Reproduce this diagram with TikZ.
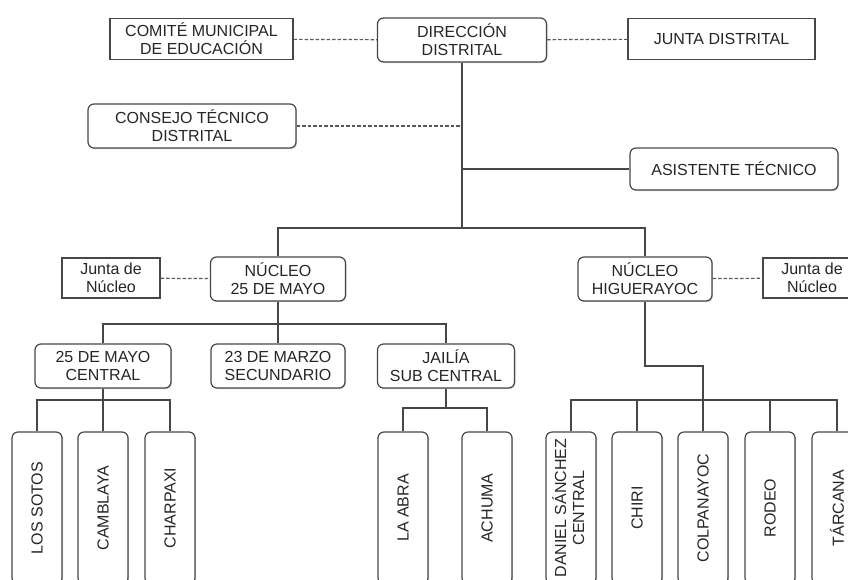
\documentclass[tikz,border=0pt]{standalone}
\usepackage{fontspec}
\setmainfont{Liberation Sans}
\usepackage{tikz}
\usetikzlibrary{shadows}

\begin{document}
\begin{tikzpicture}[x=1pt, y=-1pt, line width=1.2pt, draw=black!72, text=black!85,
    font=\fontsize{16}{18}\selectfont,
    box/.style={draw=black!72, fill=white, align=center, inner sep=0pt, rounded corners=6pt,
                drop shadow={shadow xshift=1pt, shadow yshift=-1pt, opacity=0.35}},
    sqbox/.style={draw=black!72, fill=white, align=center, inner sep=0pt},
    leaf/.style={box, minimum width=50pt, minimum height=152pt},
    link/.style={draw=black!65, dashed, dash pattern=on 3.5pt off 2pt}]
      \useasboundingbox (0,0) rectangle (848,579);

      \node[box,   minimum width=169pt, minimum height=44pt]  (DD)  at (462, 40)   {DIRECCIÓN \\ DISTRITAL};
      \node[sqbox, minimum width=183pt, minimum height=41pt]  (CME) at (201.5, 39) {COMITÉ MUNICIPAL \\ DE EDUCACIÓN};
      \node[sqbox, minimum width=187pt, minimum height=41pt]  (JD)  at (721.5, 39) {JUNTA DISTRITAL};
      \node[box,   minimum width=208pt, minimum height=44pt]  (CTD) at (192, 126)  {CONSEJO TÉCNICO \\ DISTRITAL};
      \node[box,   minimum width=208pt, minimum height=42pt]  (AT)  at (734, 169)  {ASISTENTE TÉCNICO};

      \node[box,   minimum width=135pt, minimum height=44pt]  (N25) at (278, 279)  {NÚCLEO \\ 25 DE MAYO};
      \node[box,   minimum width=134pt, minimum height=44pt]  (NH)  at (645, 279)  {NÚCLEO \\ HIGUERAYOC};
      \node[sqbox, minimum width=98pt,  minimum height=40pt]  (JN1) at (111, 278)  {Junta de \\ Núcleo};
      \node[sqbox, minimum width=98pt,  minimum height=40pt]  (JN2) at (812, 278)  {Junta de \\ Núcleo};

      \node[box,   minimum width=136pt, minimum height=44pt]  (C25) at (103, 366)  {25 DE MAYO \\ CENTRAL};
      \node[box,   minimum width=134pt, minimum height=44pt]  (C23) at (278, 366)  {23 DE MARZO \\ SECUNDARIO};
      \node[box,   minimum width=137pt, minimum height=44pt]  (CJ)  at (446, 366)  {JAILÍA \\ SUB CENTRAL};

      \node[leaf] (LS) at (37, 508)  {\rotatebox{90}{LOS SOTOS}};
      \node[leaf] (CB) at (103, 508) {\rotatebox{90}{CAMBLAYA}};
      \node[leaf] (CX) at (170, 508) {\rotatebox{90}{CHARPAXI}};
      \node[leaf] (LA) at (403, 508) {\rotatebox{90}{LA ABRA}};
      \node[leaf] (AC) at (487, 508) {\rotatebox{90}{ACHUMA}};
      \node[leaf] (DS) at (571, 508) {\rotatebox{90}{\begin{tabular}{@{}c@{}}DANIEL SÁNCHEZ\\CENTRAL\end{tabular}}};
      \node[leaf] (CH) at (637, 508) {\rotatebox{90}{CHIRI}};
      \node[leaf] (CP) at (703, 508) {\rotatebox{90}{COLPANAYOC}};
      \node[leaf] (RO) at (770, 508) {\rotatebox{90}{RODEO}};
      \node[leaf] (TA) at (837, 508) {\rotatebox{90}{TÁRCANA}};

      \coordinate (b1) at (462, 228);
      \coordinate (b2) at (278, 324);
      \coordinate (b3) at (103, 400);
      \coordinate (b4) at (446, 408);
      \coordinate (b5) at (645, 366);
      \coordinate (b6) at (703, 400);

      \draw[link] (CME) -- (DD);
      \draw[link] (DD)  -- (JD);
      \draw[link] (CTD.east) -- (CTD.east -| DD.south);
      \draw[link] (JN1) -- (N25);
      \draw[link] (NH)  -- (JN2);

      \draw (DD.south) -- (b1);
      \draw (DD.south |- AT.west) -- (AT.west);
      \draw (N25.north) |- (b1) -| (NH.north);

      \draw (N25.south) -- (C23.north);
      \draw (C25.north) |- (b2) -| (CJ.north);

      \draw (C25.south) -- (CB.north);
      \draw (LS.north) |- (b3) -| (CX.north);

      \draw (CJ.south) -- (b4);
      \draw (LA.north) |- (b4) -| (AC.north);

      \draw (NH.south) -- (b5) -| (CP.north);
      \draw (DS.north) |- (b6) -| (TA.north);
      \draw (CH.north) -- (CH.north |- b6);
      \draw (RO.north) -- (RO.north |- b6);
\end{tikzpicture}
\end{document}
